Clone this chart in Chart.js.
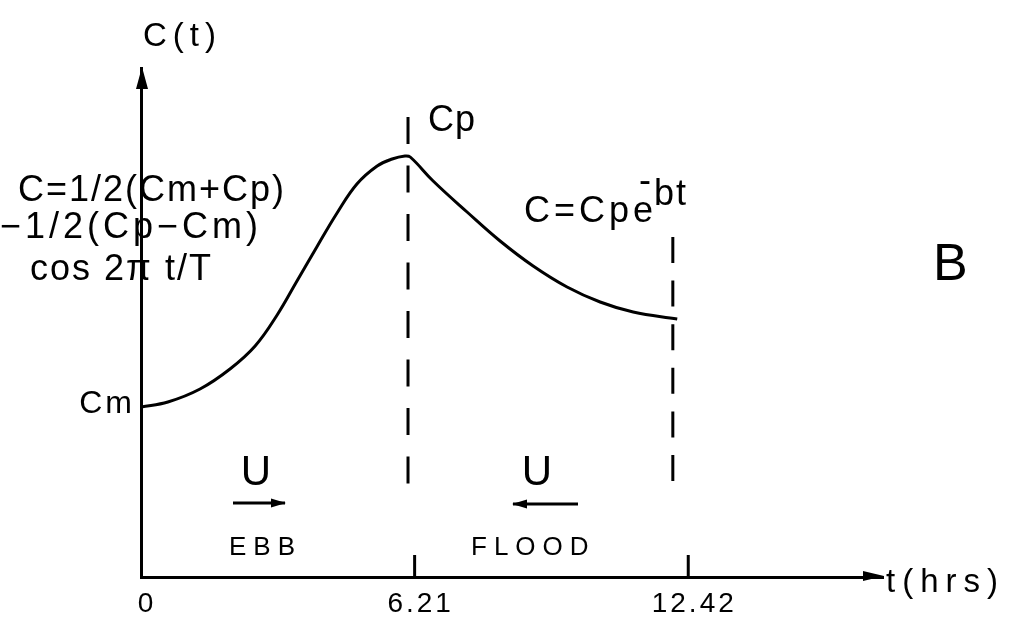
<!DOCTYPE html>
<html><head><meta charset="utf-8">
<script src="https://cdn.jsdelivr.net/npm/chart.js@4.4.1/dist/chart.umd.min.js"></script>
<style>html,body{margin:0;padding:0;background:#fff}#wrap{width:1014px;height:629px}</style>
</head><body><div id="wrap"><canvas id="c" width="1014" height="629"></canvas></div>
<script>
// ---- data (t in hours, C in arbitrary units) ----
const curveT = [0.00, 0.61, 1.34, 2.02, 2.59, 3.09, 3.54, 3.99, 4.45, 4.90, 5.36, 5.70, 5.99, 6.11, 6.63, 7.40, 8.15, 8.90, 9.67, 10.42, 11.17, 12.17];
const curveC = [1.70, 1.75, 1.88, 2.08, 2.31, 2.62, 2.96, 3.30, 3.64, 3.93, 4.11, 4.18, 4.21, 4.20, 3.96, 3.65, 3.36, 3.11, 2.90, 2.75, 2.65, 2.58];
const xTickValues = [0, 6.21, 12.42];
const xTickLabels = ['0', '6.21', '12.42'];
const cmValue = 1.70;
const cmLabel = 'Cm';
const dash1T = [6.06, 6.06];
const dash1C = [4.60, 0.935];
const dash2T = [12.07, 12.07];
const dash2C = [3.40, 0.90];
const xMax = 16.84;
const yMax = 5.09;

const FONT = '"Liberation Sans", Arial, sans-serif';

function txt(ctx, s, x, y, size, ls, align) {
  ctx.save();
  ctx.font = size + 'px ' + FONT;
  ctx.letterSpacing = ls + 'px';
  ctx.fillStyle = '#000';
  ctx.textAlign = align || 'left';
  ctx.textBaseline = 'alphabetic';
  ctx.fillText(s, x, y);
  ctx.restore();
}
function arrowLine(ctx, x1, x2, y, headAtRight) {
  ctx.save();
  ctx.strokeStyle = '#000'; ctx.fillStyle = '#000'; ctx.lineWidth = 3;
  ctx.beginPath(); ctx.moveTo(x1, y); ctx.lineTo(x2, y); ctx.stroke();
  ctx.beginPath();
  if (headAtRight) { ctx.moveTo(x2 + 1, y); ctx.lineTo(x2 - 14, y - 4.5); ctx.lineTo(x2 - 14, y + 4.5); }
  else { ctx.moveTo(x1 - 1, y); ctx.lineTo(x1 + 14, y - 4.5); ctx.lineTo(x1 + 14, y + 4.5); }
  ctx.closePath(); ctx.fill();
  ctx.restore();
}

const annot = {
  id: 'annot',
  beforeDraw(chart) { chart.ctx.letterSpacing = '3px'; },
  beforeDatasetsDraw(chart) { chart.ctx.letterSpacing = '0px'; },
  afterDraw(chart) {
    const ctx = chart.ctx, a = chart.chartArea, xs = chart.scales.x;
    ctx.save();
    ctx.fillStyle = '#000'; ctx.strokeStyle = '#000';
    // axis arrowheads
    ctx.beginPath(); ctx.moveTo(a.left + 1, a.top - 1); ctx.lineTo(a.left - 5, a.top + 21); ctx.lineTo(a.left + 7, a.top + 21); ctx.closePath(); ctx.fill();
    ctx.beginPath(); ctx.moveTo(a.right + 1, a.bottom - 1); ctx.lineTo(a.right - 20, a.bottom - 6); ctx.lineTo(a.right - 20, a.bottom + 4); ctx.closePath(); ctx.fill();
    // tick marks inside the axis
    ctx.lineWidth = 3;
    xTickValues.slice(1).forEach(v => {
      const px = xs.getPixelForValue(v);
      ctx.beginPath(); ctx.moveTo(px, a.bottom - 22); ctx.lineTo(px, a.bottom); ctx.stroke();
    });
    ctx.restore();
    // texts
    txt(ctx, 'C(t)', 143, 46, 33, 6);
    txt(ctx, 'C=1/2(Cm+Cp)', 18, 201, 36, 2);
    txt(ctx, '\u22121/2(Cp\u2212Cm)', 0, 238, 36, 4);
    txt(ctx, 'cos 2\u03c0 t/T', 30, 280, 36, 2);
    txt(ctx, 'Cp', 428, 131, 36, 1);
    txt(ctx, 'C=Cpe', 524, 222, 36, 4);
    txt(ctx, '-', 639, 192, 36, 0);
    txt(ctx, 'bt', 654, 205, 36, 2);
    txt(ctx, 'B', 933, 280, 52, 0);
    txt(ctx, 'U', 256, 485, 42, 0, 'center');
    txt(ctx, 'U', 537, 485, 42, 0, 'center');
    txt(ctx, 'EBB', 229, 555, 26, 7);
    txt(ctx, 'FLOOD', 471, 555, 26, 7);
    txt(ctx, 't(hrs)', 886, 592, 33, 7);
    arrowLine(ctx, 233, 285, 503, true);
    arrowLine(ctx, 513, 578, 504, false);
  }
};

const pts = (T, C) => T.map((t, i) => ({ x: t, y: C[i] }));

new Chart(document.getElementById('c').getContext('2d'), {
  type: 'line',
  data: {
    datasets: [
      { data: pts(curveT, curveC), borderColor: '#000', borderWidth: 3, pointRadius: 0, tension: 0.4, fill: false },
      { data: pts(dash1T, dash1C), borderColor: '#000', borderWidth: 3, pointRadius: 0, borderDash: [27, 21.5], borderCapStyle: 'butt', fill: false },
      { data: pts(dash2T, dash2C), borderColor: '#000', borderWidth: 3, pointRadius: 0, borderDash: [26, 17.6], borderCapStyle: 'butt', fill: false }
    ]
  },
  options: {
    responsive: false, animation: false, devicePixelRatio: 1,
    layout: { padding: { top: 68, right: 131, left: 0, bottom: 0 } },
    plugins: { legend: { display: false }, tooltip: { enabled: false } },
    scales: {
      x: {
        type: 'linear', min: 0, max: xMax,
        grid: { display: false, drawTicks: false },
        border: { display: true, color: '#000', width: 3 },
        afterBuildTicks: s => { s.ticks = xTickValues.map(v => ({ value: v })); },
        ticks: { callback: (v, i) => xTickLabels[i], font: { family: FONT, size: 28 }, color: '#000', padding: 10, labelOffset: 6, maxRotation: 0, autoSkip: false },
        afterFit: s => { s.height = 52; }
      },
      y: {
        type: 'linear', min: 0, max: yMax,
        grid: { display: false, drawTicks: false },
        border: { display: true, color: '#000', width: 3 },
        afterBuildTicks: s => { s.ticks = [{ value: cmValue }]; },
        ticks: { callback: () => cmLabel, font: { family: FONT, size: 32 }, color: '#000', padding: 6, labelOffset: -3 },
        afterFit: s => { s.width = 141; }
      }
    }
  },
  plugins: [annot]
});
</script></body></html>
